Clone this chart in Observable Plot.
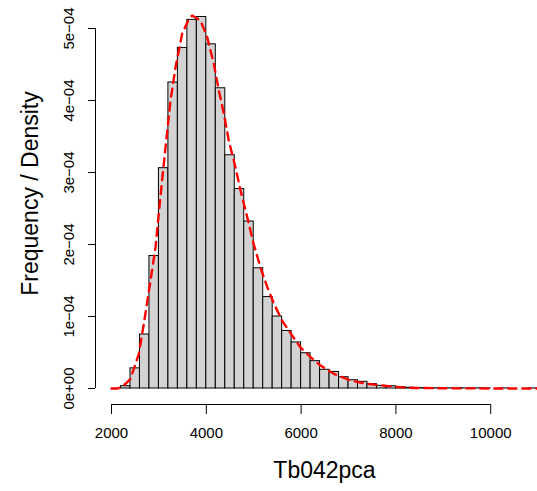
<!DOCTYPE html>
<html>
<head>
<meta charset="utf-8">
<script src="https://cdn.jsdelivr.net/npm/d3@7"></script>
<script src="https://cdn.jsdelivr.net/npm/@observablehq/plot@0.6"></script>
<style>
  html, body { margin: 0; padding: 0; background: white; }
  #chart svg { display: block; }
</style>
</head>
<body>
<div id="chart"></div>
<script>
// Histogram bins (left edge, bin width 200) and density heights
const binStarts = [2200, 2400, 2600, 2800, 3000, 3200, 3400, 3600, 3800, 4000,
  4200, 4400, 4600, 4800, 5000, 5200, 5400, 5600, 5800, 6000,
  6200, 6400, 6600, 6800, 7000, 7200, 7400, 7600, 7800, 8000,
  8200, 8400, 8600, 8800, 9000, 9200, 9400, 9600, 9800, 10000,
  10200, 10400, 10600, 10800];
const binWidth = 200;
const binDensity = [3.2e-6, 2.8e-5, 7.5e-5, 1.84e-4, 3.06e-4, 4.25e-4, 4.73e-4, 5.12e-4, 5.16e-4, 4.78e-4,
  4.17e-4, 3.24e-4, 2.77e-4, 2.32e-4, 1.67e-4, 1.27e-4, 1.00e-4, 8.0e-5, 6.4e-5, 4.9e-5,
  3.8e-5, 2.6e-5, 2.3e-5, 1.57e-5, 1.15e-5, 9.3e-6, 6.0e-6, 3.7e-6, 3.2e-6, 1.8e-6,
  1.0e-6, 6e-7, 5e-7, 3e-7, 2e-7, 3e-7, 1e-7, 2e-7, 1e-7, 0,
  1e-7, 0, 0, 1e-7];

// Kernel density curve (x, density)
const curveX = [2000, 2130, 2190, 2295, 2365, 2400, 2576, 2682, 2823, 2928,
  3034, 3139, 3245, 3350, 3491, 3631, 3702, 3878, 4019, 4158,
  4264, 4369, 4475, 4616, 4722, 4863, 5002, 5143, 5285, 5425,
  5601, 5776, 5987, 6198, 6409, 6690, 7042, 7394, 7745, 8000,
  8378, 9000, 10000, 11000];
const curveY = [0, 0, 1.8e-6, 6.5e-6, 1.1e-5, 1.35e-5, 4.8e-5, 9.0e-5, 1.5e-4, 1.96e-4,
  2.68e-4, 3.35e-4, 4.0e-4, 4.46e-4, 4.93e-4, 5.13e-4, 5.18e-4, 5.11e-4, 4.88e-4, 4.51e-4,
  4.14e-4, 3.82e-4, 3.44e-4, 3.07e-4, 2.75e-4, 2.38e-4, 2.0e-4, 1.68e-4, 1.41e-4, 1.18e-4,
  9.4e-5, 7.7e-5, 5.7e-5, 4.35e-5, 3.2e-5, 2.04e-5, 1.1e-5, 6.5e-6, 4.0e-6, 2.2e-6,
  8e-7, 3e-7, 1e-7, 0];

const xTicks = [2000, 4000, 6000, 8000, 10000];
const xTickLabels = ["2000", "4000", "6000", "8000", "10000"];
const yTicks = [0, 1e-4, 2e-4, 3e-4, 4e-4, 5e-4];
const yTickLabels = ["0e+00", "1e\u221204", "2e\u221204", "3e\u221204", "4e\u221204", "5e\u221204"];
const xTitle = "Tb042pca";
const yTitle = "Frequency / Density";

const xDomain = [1662, 10987];
const yDomain = [-2.22e-5, 5.389e-4];

const bins = binStarts.map((x, i) => ({x1: x, x2: x + binWidth, y: binDensity[i]}));
const curve = curveX.map((x, i) => ({x, y: curveY[i]}));
const yTickData = yTicks.map((v, i) => ({v, label: yTickLabels[i]}));

const font = "'Liberation Sans', Arial, Helvetica, sans-serif";

const chart = Plot.plot({
  width: 537,
  height: 491,
  marginLeft: 95,
  marginRight: 0,
  marginTop: 0,
  marginBottom: 87,
  style: {fontFamily: font, fontSize: "15px", background: "white", color: "black", overflow: "hidden"},
  x: {domain: xDomain, axis: null},
  y: {domain: yDomain, axis: null},
  marks: [
    Plot.rectY(bins, {x1: "x1", x2: "x2", y: "y", fill: "#D3D3D3", stroke: "black", strokeWidth: 1, clip: true}),
    Plot.line(curve, {x: "x", y: "y", stroke: "#FF0000", strokeWidth: 2.4, strokeDasharray: "8,6", clip: true}),
    // x axis
    Plot.ruleY([yDomain[0]], {x1: xTicks[0], x2: xTicks[xTicks.length - 1], stroke: "black", strokeWidth: 1}),
    Plot.axisX({ticks: xTicks, tickSize: 10, tickPadding: 13, fontSize: 15, label: null,
      tickFormat: (d) => xTickLabels[xTicks.indexOf(d)], stroke: "black", strokeWidth: 1}),
    // y axis
    Plot.ruleX([xDomain[0]], {y1: yTicks[0], y2: yTicks[yTicks.length - 1], stroke: "black", strokeWidth: 1}),
    Plot.axisY({ticks: yTicks, tickSize: 7, tickFormat: () => "", label: null, stroke: "black", strokeWidth: 1}),
    Plot.text(yTickData, {y: "v", text: "label", frameAnchor: "left", dx: -22, rotate: -90,
      textAnchor: "middle", lineAnchor: "bottom", fontSize: 15, fill: "black"}),
    // titles
    Plot.text([xTitle], {text: (d) => d, frameAnchor: "bottom", dx: 8, dy: 73, lineAnchor: "bottom",
      textAnchor: "middle", fontSize: 23, fill: "black"}),
    Plot.text([yTitle], {text: (d) => d, frameAnchor: "left", dx: -58, dy: -9, rotate: -90,
      lineAnchor: "bottom", textAnchor: "middle", fontSize: 23, fill: "black"})
  ]
});
document.getElementById("chart").appendChild(chart);
</script>
</body>
</html>
